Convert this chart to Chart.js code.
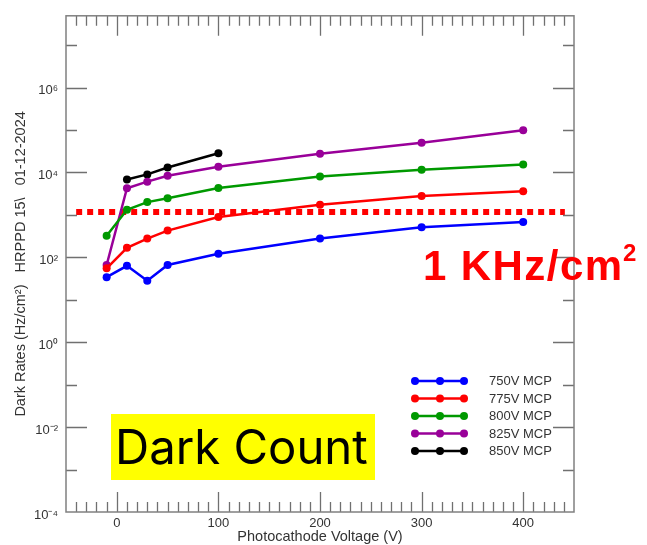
<!DOCTYPE html>
<html>
<head>
<meta charset="utf-8">
<script src="https://cdn.jsdelivr.net/npm/chart.js@4.4.0/dist/chart.umd.min.js"></script>
<style>
  html, body { margin: 0; padding: 0; background: #fff; }
</style>
</head>
<body>
<canvas id="chart" width="647" height="545"></canvas>
<script>
// photocathode voltage (V) and dark rates (Hz/cm2) per MCP voltage
const voltages = [-10, 10, 30, 50, 100, 200, 300, 400];
const mcp750 = [34, 63, 28, 66, 122, 277, 510, 680];
const mcp775 = [55, 168, 277, 426, 890, 1730, 2800, 3600];
const mcp800 = [321, 1320, 2000, 2470, 4300, 8070, 11600, 15400];
const mcp825 = [66, 4240, 6070, 8380, 13600, 27700, 50200, 99000];
const mcp850 = [null, 6800, 8980, 13100, 28200, null, null, null];
const seriesLabels = ['750V MCP', '775V MCP', '800V MCP', '825V MCP', '850V MCP'];
const seriesColors = ['#0000ff', '#ff0000', '#009900', '#990099', '#000000'];

// 1 kHz/cm2 reference line
const thresholdValue = 1170;
const thresholdSpan = [-40, 441];

const xTicks = [0, 100, 200, 300, 400];
const yTicks = [1e-4, 1e-2, 1, 1e2, 1e4, 1e6];
const yTickLabels = ['10⁻⁴', '10⁻²', '10⁰', '10²', '10⁴', '10⁶'];

const FONT = '"Liberation Sans", Arial, Helvetica, sans-serif';
const TEXT = '#333333';

const toPoints = vals => voltages
    .map((v, i) => ({ x: v, y: vals[i] }))
    .filter(p => p.y !== null);

const series = [mcp750, mcp775, mcp800, mcp825, mcp850];
const datasets = series.map((vals, i) => ({
    label: seriesLabels[i],
    data: toPoints(vals),
    borderColor: seriesColors[i],
    backgroundColor: seriesColors[i],
    borderWidth: 2.5,
    pointRadius: 4,
    pointBorderWidth: 0,
    pointBackgroundColor: seriesColors[i]
}));

datasets.push({
    label: 'threshold',
    data: thresholdSpan.map(x => ({ x: x, y: thresholdValue })),
    borderColor: '#ff0000',
    borderWidth: 6,
    borderDash: [6, 5],
    pointRadius: 0
});

// frame with inward ticks on all four sides
const frameTicks = {
    id: 'frameTicks',
    afterDatasetsDraw(chart) {
        const { ctx, chartArea: a, scales: { x, y } } = chart;
        ctx.save();
        ctx.strokeStyle = '#707070';
        ctx.lineWidth = 1.3;
        ctx.beginPath();
        for (let v = -40; v <= 440; v += 10) {
            const len = v % 100 === 0 ? 20 : 10;
            const px = Math.round(x.getPixelForValue(v)) + 0.5;
            ctx.moveTo(px, a.bottom); ctx.lineTo(px, a.bottom - len);
            ctx.moveTo(px, a.top); ctx.lineTo(px, a.top + len);
        }
        for (let e = -3; e <= 7; e++) {
            const len = e % 2 === 0 ? 21 : 11;
            const py = Math.round(y.getPixelForValue(Math.pow(10, e))) + 0.5;
            ctx.moveTo(a.left, py); ctx.lineTo(a.left + len, py);
            ctx.moveTo(a.right, py); ctx.lineTo(a.right - len, py);
        }
        ctx.stroke();
        ctx.strokeStyle = '#808080';
        ctx.lineWidth = 1.5;
        ctx.strokeRect(a.left, a.top, a.right - a.left, a.bottom - a.top);
        ctx.restore();
    }
};

// legend with three markers per line
const markerLegend = {
    id: 'markerLegend',
    afterDraw(chart) {
        const { ctx } = chart;
        ctx.save();
        ctx.font = '13px ' + FONT;
        ctx.textBaseline = 'middle';
        for (let i = 0; i < seriesLabels.length; i++) {
            const yy = 381 + i * 17.5;
            ctx.strokeStyle = seriesColors[i];
            ctx.fillStyle = seriesColors[i];
            ctx.lineWidth = 2.5;
            ctx.beginPath();
            ctx.moveTo(415, yy); ctx.lineTo(464, yy);
            ctx.stroke();
            [415, 440, 464].forEach(px => {
                ctx.beginPath();
                ctx.arc(px, yy, 4, 0, Math.PI * 2);
                ctx.fill();
            });
            ctx.fillStyle = TEXT;
            ctx.fillText(seriesLabels[i], 489, yy + 0.5);
        }
        ctx.restore();
    }
};

// slide overlays: the yellow label and the threshold text
const overlays = {
    id: 'overlays',
    afterDraw(chart) {
        const { ctx } = chart;
        ctx.save();
        ctx.fillStyle = '#ffff00';
        ctx.fillRect(111, 414, 264, 66);
        ctx.fillStyle = '#000000';
        ctx.textBaseline = 'alphabetic';
        ctx.font = '45px Inter, "Open Sans", sans-serif';
        const w0 = ctx.measureText('Dark Count').width;
        const size = Math.min(50, 45 * 253 / w0);
        ctx.font = size.toFixed(1) + 'px Inter, "Open Sans", sans-serif';
        ctx.fillText('Dark Count', 115, 464);

        ctx.fillStyle = '#ff0000';
        ctx.font = 'bold 42px ' + FONT;
        const w1 = ctx.measureText('1 KHz/cm').width;
        ctx.letterSpacing = Math.max(0, (199 - w1) / 7).toFixed(2) + 'px';
        ctx.fillText('1 KHz/cm', 423, 280);
        ctx.letterSpacing = '0px';
        ctx.font = 'bold 24px ' + FONT;
        ctx.fillText('2', 623, 261);
        ctx.restore();
    }
};

new Chart(document.getElementById('chart'), {
    type: 'line',
    data: { datasets: datasets },
    options: {
        responsive: false,
        animation: false,
        layout: { padding: { top: 12, right: 73, left: 0, bottom: 0 } },
        plugins: {
            legend: { display: false },
            tooltip: { enabled: false }
        },
        scales: {
            x: {
                type: 'linear',
                min: -50,
                max: 450,
                afterBuildTicks: s => { s.ticks = xTicks.map(v => ({ value: v })); },
                afterFit: s => { s.height = 33; },
                grid: { display: false, drawTicks: false },
                border: { display: false },
                ticks: { padding: 4, maxRotation: 0, autoSkip: false, color: TEXT, font: { family: FONT, size: 13 } },
                title: {
                    display: true,
                    text: 'Photocathode Voltage (V)',
                    color: TEXT,
                    padding: { top: 0, bottom: -1 },
                    font: { family: FONT, size: 14.5 }
                }
            },
            y: {
                type: 'logarithmic',
                min: 1e-4,
                max: 4.9e7,
                afterBuildTicks: s => { s.ticks = yTicks.map(v => ({ value: v })); },
                afterFit: s => { s.width = 66; },
                grid: { display: false, drawTicks: false },
                border: { display: false },
                ticks: {
                    padding: 8,
                    labelOffset: 3,
                    autoSkip: false,
                    color: TEXT,
                    font: { family: FONT, size: 13 },
                    callback: (v, i) => yTickLabels[i]
                },
                title: {
                    display: true,
                    text: 'Dark Rates (Hz/cm²)   HRPPD 15\\   01-12-2024',
                    color: TEXT,
                    padding: { top: 12, bottom: 0 },
                    font: { family: FONT, size: 14.5 }
                }
            }
        }
    },
    plugins: [frameTicks, markerLegend, overlays]
});
</script>
</body>
</html>
